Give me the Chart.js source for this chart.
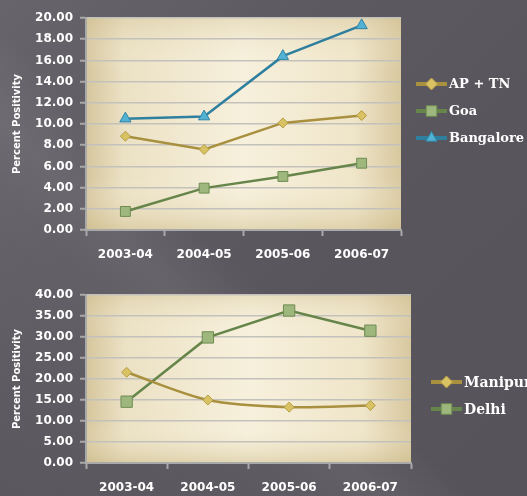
<!DOCTYPE html>
<html><head><meta charset="utf-8">
<script src="https://cdn.jsdelivr.net/npm/chart.js@4"></script>
<style>
html,body{margin:0;padding:0;width:527px;height:496px;overflow:hidden;}
body{background:
  linear-gradient(45deg, rgba(255,255,255,0) 0%, rgba(255,255,255,0.04) 30%, rgba(255,255,255,0.07) 37%, rgba(255,255,255,0) 46%, rgba(255,255,255,0) 100%),
  linear-gradient(135deg,#67646b 0%,#5d5a61 30%,#58555c 60%,#56535a 100%);}
canvas{position:absolute;left:0;}
#c1{top:0;}
#c2{top:265px;}
</style></head><body>
<canvas id="c1" width="527" height="265"></canvas>
<canvas id="c2" width="527" height="231"></canvas>
<script>
const categories = ['2003-04','2004-05','2005-06','2006-07'];
const apTn      = [8.85, 7.6, 10.1, 10.8];
const goa       = [1.75, 3.95, 5.05, 6.3];
const bangalore = [10.5, 10.7, 16.4, 19.3];
const manipur   = [21.6, 15.0, 13.3, 13.7];
const delhi     = [14.6, 29.9, 36.3, 31.5];
const topTitle = 'Percent Positivity';

const GOLD = {line:'#a8903e', fill:'#d9c263', edge:'#b59c45'};
const GREEN = {line:'#66854a', fill:'#9db77d', edge:'#6f8c52'};
const BLUE = {line:'#2f7f9f', fill:'#52b2d4', edge:'#2f84a5'};

function ds(label, data, c, style, r, tension){
  return {label, data, borderColor:c.line, borderWidth:2.5, pointStyle:style, pointRadius:r,
    pointBackgroundColor:c.fill, pointBorderColor:c.edge, pointBorderWidth:1, tension:tension||0, fill:false};
}

const plotBg = {
  id:'plotBg',
  beforeDraw(chart){
    const {ctx, chartArea:a} = chart;
    ctx.save();
    let g = ctx.createLinearGradient(a.left,0,a.right,0);
    g.addColorStop(0,'#d6c69d'); g.addColorStop(0.12,'#ebe1c4'); g.addColorStop(0.5,'#f7f0dc');
    g.addColorStop(0.85,'#efe5c9'); g.addColorStop(1,'#d8c89f');
    ctx.fillStyle = g; ctx.fillRect(a.left,a.top,a.width,a.height);
    let v = ctx.createLinearGradient(0,a.top,0,a.bottom);
    v.addColorStop(0,'rgba(205,188,140,0.35)'); v.addColorStop(0.25,'rgba(255,250,235,0)');
    v.addColorStop(0.75,'rgba(255,250,235,0)'); v.addColorStop(1,'rgba(200,182,130,0.45)');
    ctx.fillStyle = v; ctx.fillRect(a.left,a.top,a.width,a.height);
    ctx.restore();
  }
};

function marker(ctx, style, x, y, r, fill, edge){
  ctx.beginPath();
  if(style==='rect'){ const s=r*Math.SQRT1_2; ctx.rect(x-s,y-s,2*s,2*s); }
  else if(style==='rectRot'){ ctx.moveTo(x-r,y); ctx.lineTo(x,y-r); ctx.lineTo(x+r,y); ctx.lineTo(x,y+r); ctx.closePath(); }
  else if(style==='triangle'){ const w=r*Math.sqrt(3)/2; ctx.moveTo(x,y-r); ctx.lineTo(x+w,y+r/2); ctx.lineTo(x-w,y+r/2); ctx.closePath(); }
  ctx.fillStyle=fill; ctx.fill(); ctx.strokeStyle=edge; ctx.lineWidth=1; ctx.stroke();
}

const sideLegend = {
  id:'sideLegend',
  afterDraw(chart, args, opts){
    const {ctx} = chart;
    ctx.save();
    chart.data.datasets.forEach((d,i)=>{
      const y = opts.y + i*opts.gap;
      ctx.strokeStyle = d.borderColor; ctx.lineWidth = 4;
      ctx.beginPath(); ctx.moveTo(opts.x,y); ctx.lineTo(opts.x+31,y); ctx.stroke();
      const r = d.pointStyle==='rectRot' ? 6 : (d.pointStyle==='rect' ? 7.5 : 6.5);
      marker(ctx, d.pointStyle, opts.x+15.5, y, r, d.pointBackgroundColor, d.pointBorderColor);
      ctx.fillStyle='#ffffff'; ctx.font='bold '+opts.size+'px "DejaVu Serif"'; ctx.textBaseline='middle'; ctx.textAlign='left';
      ctx.fillText(d.label, opts.x+33, y+1);
    });
    ctx.restore();
  }
};

const tickFont = {family:'DejaVu Sans', weight:'bold', size:12};

function makeChart(id, datasets, max, step, pad, yW, xH, legend){
  return new Chart(document.getElementById(id), {
    type:'line',
    data:{labels:categories, datasets},
    plugins:[plotBg, sideLegend],
    options:{
      responsive:false, animation:false,
      layout:{padding:pad},
      plugins:{legend:{display:false}, tooltip:{enabled:false}, sideLegend:legend},
      scales:{
        x:{offset:true,
          grid:{display:true, offset:true, drawOnChartArea:false, tickLength:6, tickColor:'#a9a9a9', tickWidth:2},
          border:{color:'#a9a9a9', width:2},
          ticks:{color:'#ffffff', font:tickFont, padding:12, maxRotation:0},
          afterFit(s){ s.height = xH; }
        },
        y:{min:0, max:max,
          ticks:{stepSize:step, color:'#ffffff', font:tickFont, padding:7, callback:v=>Number(v).toFixed(2)},
          grid:{color:'#c3c1bb', lineWidth:1.5, tickLength:6, tickColor:'#a9a9a9', tickWidth:2},
          border:{color:'#a9a9a9', width:2},
          title:{display:true, text:topTitle, color:'#ffffff', font:{family:'DejaVu Sans', weight:'bold', size:10}, padding:{top:11,bottom:0}},
          afterFit(s){ s.width = yW; }
        }
      }
    }
  });
}

makeChart('c1', [
  ds('AP + TN', apTn, GOLD, 'rectRot', 5),
  ds('Goa', goa, GREEN, 'rect', 7),
  ds('Bangalore', bangalore, BLUE, 'triangle', 6.5)
], 20, 2, {top:18, right:126, bottom:0, left:0}, 86, 35, {x:416, y:84, gap:27, size:13});

makeChart('c2', [
  ds('Manipur', manipur, GOLD, 'rectRot', 5, 0.3),
  ds('Delhi', delhi, GREEN, 'rect', 8)
], 40, 5, {top:30, right:116, bottom:0, left:0}, 86, 33, {x:431, y:117, gap:27, size:14});
</script>
</body></html>
